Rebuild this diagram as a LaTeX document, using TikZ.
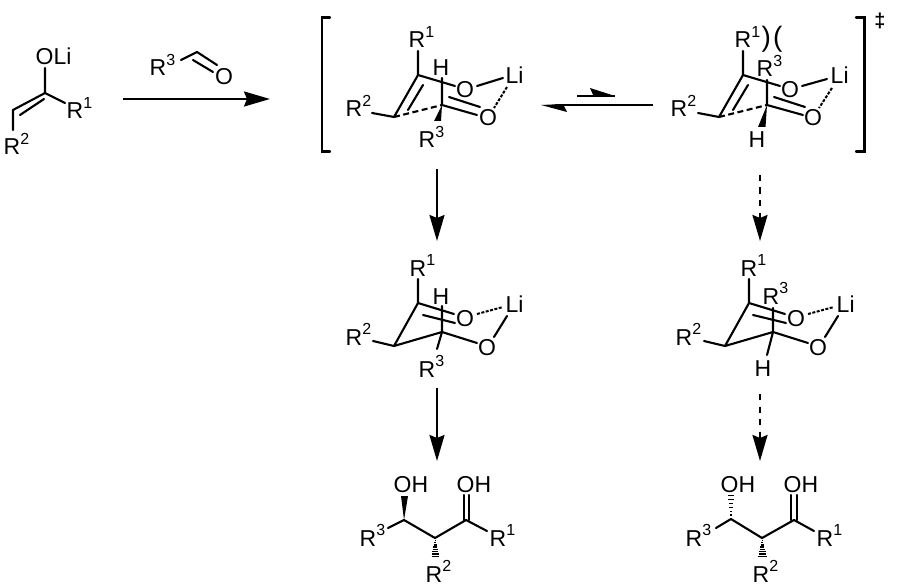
\documentclass[tikz,border=0pt]{standalone}
\usepackage{fontspec}
\setmainfont{Liberation Sans}
\usetikzlibrary{arrows.meta}
\newcommand\Rs[1]{R\raisebox{10.5pt}{\fontsize{16}{16}\selectfont #1}}
% vertical hashed bond: apex, x-centre of base, y of base, half width
\newcommand\hashbond[4]{\foreach \t in {0.12,0.24,...,1.0}{
  \draw[line width=1.4pt,line cap=butt] ({#1+\t*(#2-#1)-\t*#4},{#3-(1-\t)*19}) -- ({#1+\t*(#2-#1)+\t*#4},{#3-(1-\t)*19});}}
\tikzset{
  bond/.style={line width=2.1pt,line cap=round,line join=round},
  dashb/.style={bond,line cap=butt,dash pattern=on 6pt off 3.5pt},
  dotb/.style={bond,line width=2pt,line cap=butt,dash pattern=on 3pt off 1.5pt},
  lab/.style={anchor=base west,inner sep=0pt,xshift=-1.5pt,font=\fontsize{23}{23}\selectfont},
  oxy/.style={anchor=base,inner sep=0pt,font=\fontsize{23}{23}\selectfont},
  rxn/.style={line width=2.3pt,-{Stealth[length=26pt,width=15pt,inset=3pt]}},
  rxnd/.style={rxn,dash pattern=on 6pt off 6.5pt},
  brk/.style={line width=2.3pt,line cap=round,line join=miter},
}
\begin{document}
\begin{tikzpicture}[x=1pt,y=-1pt]
\useasboundingbox[fill=white] (0,0) rectangle (904,588);

% ---------- enolate
\node[lab] (eO) at (37,64.5) {OLi};
\node[lab] (eR1) at (68,119) {\Rs{1}};
\node[lab] (eR2) at (5,155) {\Rs{2}};
\coordinate (e1) at (45,93); \coordinate (e2) at (13,110);
\coordinate (e1O) at (45,68); \coordinate (e1R) at (65,103); \coordinate (e2R) at (13,130);
\coordinate (e1i) at (44,99); \coordinate (e2i) at (20,115);
\draw[bond] (e1O) -- (e1) -- (e2) -- (e2R);
\draw[bond] (e1) -- (e1R);
\draw[bond] (e1i) -- (e2i);

% ---------- aldehyde
\node[lab] (aR3) at (151,76) {\Rs{3}};
\node[oxy] (aO) at (224,84.5) {O};
\coordinate (a1) at (197,52); \coordinate (a1R) at (181,60); \coordinate (a1O) at (217,65);
\coordinate (a1i) at (193,60); \coordinate (a2i) at (213,72);
\draw[bond] (a1R) -- (a1) -- (a1O);
\draw[bond] (a1i) -- (a2i);
\coordinate (ar1s) at (123,99); \coordinate (ar1e) at (270,99);
\draw[rxn] (ar1s) -- (ar1e);

% ---------- left TS
\coordinate (bl1) at (330,17.5); \coordinate (bl2) at (322,17.5); \coordinate (bl3) at (322,151.5); \coordinate (bl4) at (330,151.5);
\draw[brk] (bl1) -- (bl2) -- (bl3) -- (bl4);
\node[lab] (tR1) at (410,48) {\Rs{1}};
\node[lab] (tH) at (434,76) {H};
\node[oxy] (tOa) at (465,97.5) {O};
\node[lab] (tLi) at (507,84) {Li};
\node[oxy] (tOb) at (488,126) {O};
\node[lab] (tR2) at (347,117) {\Rs{2}};
\node[lab] (tR3) at (420,148) {\Rs{3}};
\coordinate (t1) at (418,75); \coordinate (t2) at (394,117); \coordinate (t3) at (442,105);
\coordinate (t1R) at (418,51); \coordinate (t1O) at (455,86); \coordinate (tOL) at (477,86); \coordinate (tLO) at (503,78);
\coordinate (tLd) at (507,87); \coordinate (tOd) at (494,108); \coordinate (t3O) at (477,115);
\coordinate (t3H) at (442,78); \coordinate (t3ia) at (449,97); \coordinate (t3ib) at (480,107);
\coordinate (t1i) at (423,85); \coordinate (t2i) at (408,110); \coordinate (t2R) at (372,113);
\draw[bond] (t1R) -- (t1) -- (t1O);
\draw[bond] (tOL) -- (tLO);
\draw[dotb] (tLd) -- (tOd);
\draw[bond] (t3H) -- (t3) -- (t3O);
\draw[bond] (t3ia) -- (t3ib);
\draw[bond] (t1) -- (t2) -- (t2R);
\draw[bond] (t1i) -- (t2i);
\draw[dashb] (t2) -- (t3);
\fill (t3) -- (434,121) -- (441,121) -- cycle;

% ---------- equilibrium arrows
\coordinate (eqa) at (577,96); \coordinate (eqb) at (615,96);
\coordinate (eqc) at (653,105); \coordinate (eqd) at (541,105);
\draw[line width=2.2pt] (eqa) -- (eqb);
\fill (eqb) -- (590,88) -- (594,97) -- cycle;
\draw[line width=2.2pt] (eqc) -- (555,105);
\fill (eqd) -- (567,112) -- (563,104) -- cycle;

% ---------- right TS
\node[lab] (uR1) at (736,48) {\Rs{1}};
\node[anchor=base west,inner sep=0pt,font=\fontsize{28}{28}\selectfont] (uPar) at (761.5,46.5) {)\kern2pt(};
\node[lab] (uR3) at (758,77) {\Rs{3}};
\node[oxy] (uOa) at (790,97.5) {O};
\node[lab] (uLi) at (832,84) {Li};
\node[oxy] (uOb) at (813,126) {O};
\node[lab] (uR2) at (672,117) {\Rs{2}};
\node[lab] (uH) at (750,148) {H};
\coordinate (u1) at (743,75); \coordinate (u2) at (719,117); \coordinate (u3) at (767,105);
\coordinate (u1R) at (743,51); \coordinate (u1O) at (780,86); \coordinate (uOL) at (802,86); \coordinate (uLO) at (827,79);
\coordinate (uLd) at (832,88); \coordinate (uOd) at (819,108); \coordinate (u3O) at (803,115);
\coordinate (u3H) at (767,80); \coordinate (u3ia) at (774,97); \coordinate (u3ib) at (805,107);
\coordinate (u1i) at (748,85); \coordinate (u2i) at (733,110); \coordinate (u2R) at (698,113);
\draw[bond] (u1R) -- (u1) -- (u1O);
\draw[bond] (uOL) -- (uLO);
\draw[dotb] (uLd) -- (uOd);
\draw[bond] (u3H) -- (u3) -- (u3O);
\draw[bond] (u3ia) -- (u3ib);
\draw[bond] (u1) -- (u2) -- (u2R);
\draw[bond] (u1i) -- (u2i);
\draw[dashb] (u2) -- (u3);
\fill (u3) -- (758,127) -- (765.5,127) -- cycle;
\coordinate (br1) at (856,17.5); \coordinate (br2) at (864.5,17.5); \coordinate (br3) at (864.5,151.5); \coordinate (br4) at (856,151.5);
\draw[brk] (br1) -- (br2) -- (br3) -- (br4);
\node[inner sep=0pt,font=\fontsize{20}{20}\selectfont\bfseries] (dag) at (880,21) {‡};

% ---------- reaction arrows
\coordinate (v1a) at (437,169); \coordinate (v1b) at (437,241);
\coordinate (v2a) at (437,388); \coordinate (v2b) at (437,461);
\coordinate (v3a) at (760,175); \coordinate (v3b) at (760,241);
\coordinate (v4a) at (760,394); \coordinate (v4b) at (760,461);
\draw[rxn] (v1a) -- (v1b);
\draw[rxn] (v2a) -- (v2b);
\draw[rxnd] (v3a) -- (v3b);
\draw[rxnd] (v4a) -- (v4b);

% ---------- left chair
\node[lab] (cR1) at (411,276) {\Rs{1}};
\node[lab] (cH) at (434,304) {H};
\node[oxy] (cOa) at (465,326) {O};
\node[lab] (cLi) at (507,312) {Li};
\node[oxy] (cOb) at (487,355) {O};
\node[lab] (cR2) at (347,345) {\Rs{2}};
\node[lab] (cR3) at (420,377) {\Rs{3}};
\coordinate (c1) at (418,303); \coordinate (c2) at (394,346); \coordinate (c3) at (442,332);
\coordinate (c1R) at (418,279); \coordinate (c1O) at (454,314); \coordinate (c3O) at (477,343);
\coordinate (cOL) at (477,314); \coordinate (cLO) at (503,307); \coordinate (cLd) at (507,316); \coordinate (cOd) at (494,337);
\coordinate (c3H) at (442,306); \coordinate (c3R) at (437,349); \coordinate (cia) at (423,315); \coordinate (cib) at (455,323);
\coordinate (c2R) at (373,341);
\draw[bond] (c1R) -- (c1) -- (c1O);
\draw[bond] (c1) -- (c2) -- (c3) -- (c3O);
\draw[bond] (c2) -- (c2R);
\draw[bond] (c3H) -- (c3) -- (c3R);
\draw[bond] (cia) -- (cib);
\draw[dotb] (cOL) -- (cLO);
\draw[bond] (cLd) -- (cOd);

% ---------- right chair
\node[lab] (dR1) at (742,276) {\Rs{1}};
\node[lab] (dR3) at (764,304) {\Rs{3}};
\node[oxy] (dOa) at (796,326) {O};
\node[lab] (dLi) at (838,312) {Li};
\node[oxy] (dOb) at (818,355) {O};
\node[lab] (dR2) at (677,345) {\Rs{2}};
\node[lab] (dH) at (756,376) {H};
\coordinate (d1) at (749,303); \coordinate (d2) at (725,346); \coordinate (d3) at (773,332);
\coordinate (d1R) at (749,279); \coordinate (d1O) at (785,314); \coordinate (d3O) at (808,343);
\coordinate (dOL) at (808,314); \coordinate (dLO) at (834,307); \coordinate (dLd) at (838,316); \coordinate (dOd) at (825,337);
\coordinate (d3R) at (773,308); \coordinate (d3H) at (767,355); \coordinate (dia) at (753,315); \coordinate (dib) at (786,323);
\coordinate (d2R) at (704,341);
\draw[bond] (d1R) -- (d1) -- (d1O);
\draw[bond] (d1) -- (d2) -- (d3) -- (d3O);
\draw[bond] (d2) -- (d2R);
\draw[bond] (d3R) -- (d3) -- (d3H);
\draw[bond] (dia) -- (dib);
\draw[dotb] (dOL) -- (dLO);
\draw[bond] (dLd) -- (dOd);

% ---------- left product
\node[lab] (pOHa) at (395,492) {OH};
\node[lab] (pOHb) at (458,492) {OH};
\node[lab] (pR3) at (361,546) {\Rs{3}};
\node[lab] (pR1) at (491,546) {\Rs{1}};
\node[lab] (pR2) at (427,582) {\Rs{2}};
\coordinate (p1) at (404,520); \coordinate (p2) at (435,538); \coordinate (p3) at (466,520);
\coordinate (p1R) at (388,528); \coordinate (p3R) at (487,531);
\coordinate (p3a) at (464,520); \coordinate (p3b) at (464,495); \coordinate (p3c) at (469,520); \coordinate (p3d) at (469,495);
\draw[bond] (p1R) -- (p1) -- (p2) -- (p3) -- (p3R);
\draw[bond] (p3a) -- (p3b);
\draw[bond] (p3c) -- (p3d);
\fill (p1) -- (401,496) -- (408,496) -- cycle;
\hashbond{435}{435.5}{557}{4}

% ---------- right product
\node[lab] (qOHa) at (722,492) {OH};
\node[lab] (qOHb) at (785,492) {OH};
\node[lab] (qR3) at (687,546) {\Rs{3}};
\node[lab] (qR1) at (818,546) {\Rs{1}};
\node[lab] (qR2) at (754,582) {\Rs{2}};
\coordinate (q1) at (731,519); \coordinate (q2) at (762,538); \coordinate (q3) at (794,520);
\coordinate (q1R) at (716,528); \coordinate (q3R) at (814,531);
\coordinate (q3a) at (791,520); \coordinate (q3b) at (791,495); \coordinate (q3c) at (797,520); \coordinate (q3d) at (797,495);
\draw[bond] (q1R) -- (q1) -- (q2) -- (q3) -- (q3R);
\draw[bond] (q3a) -- (q3b);
\draw[bond] (q3c) -- (q3d);
\foreach \t in {0.15,0.3,...,1.0}{\draw[line width=1.4pt] ({731-\t*3.5},{519-\t*26}) -- ({731+\t*3.5},{519-\t*26});}
\hashbond{762}{762.5}{557}{4.5}
\end{tikzpicture}
\end{document}
